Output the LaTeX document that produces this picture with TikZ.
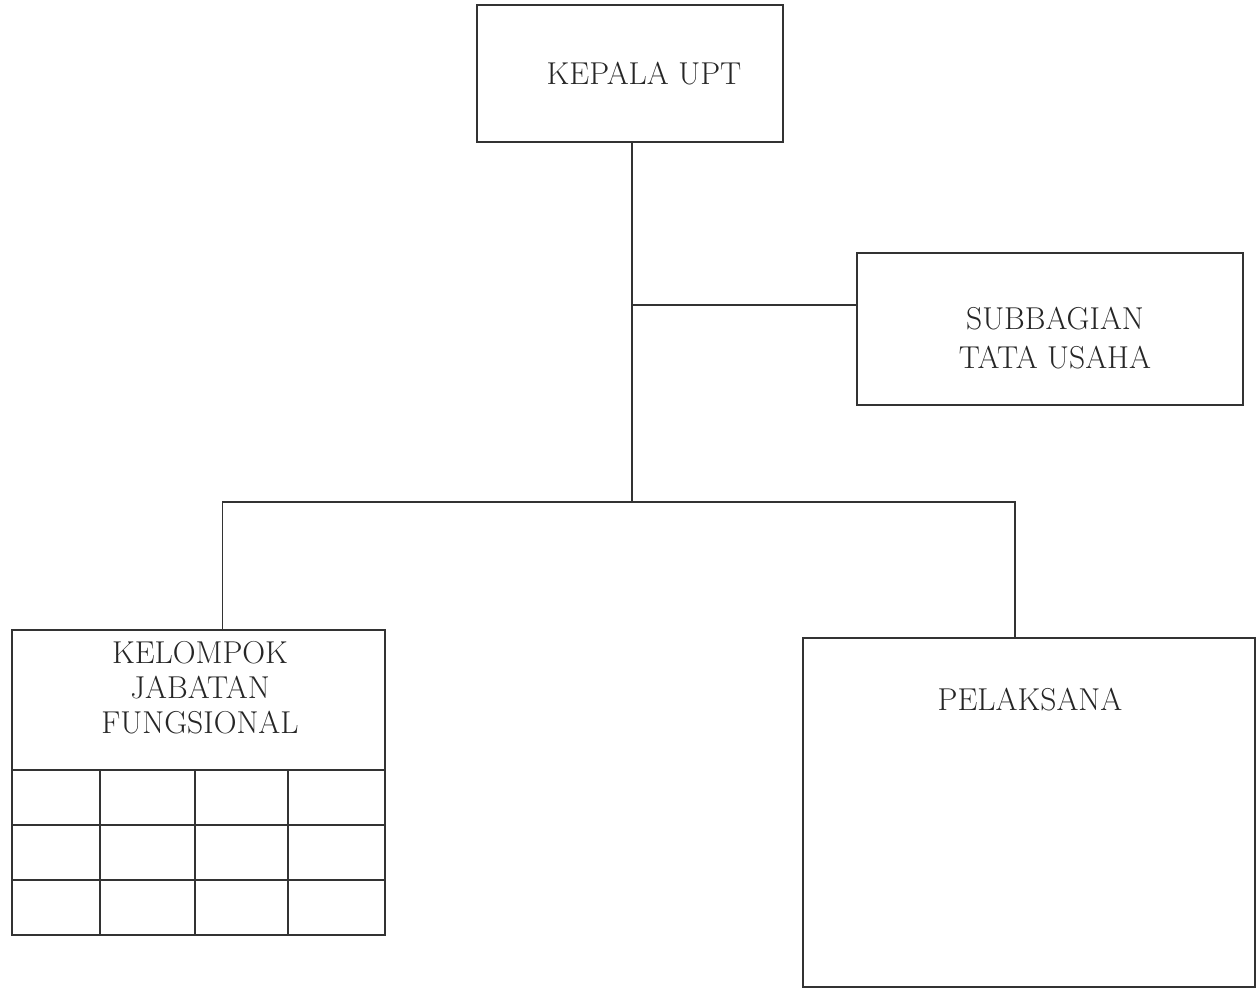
\documentclass[tikz,border=0pt]{standalone}
\usepackage{tikz}
\usetikzlibrary{positioning}

\begin{document}
\begin{tikzpicture}[x=0.2mm,y=-0.2mm,
	box/.style={draw=black!80,line width=0.9pt,rectangle,inner sep=0pt},
	lbl/.style={text=black!85,align=center,font=\fontsize{18}{21}\selectfont},
	link/.style={draw=black!80,line width=0.9pt}]
	\useasboundingbox (0,0) rectangle (1257,990);
	\node [box,minimum width=61.2mm,minimum height=27.4mm] (kepala) at (630,73.5) {};
	\node [lbl] (kepalatext) at (644,74) {KEPALA UPT};
	\node [box,minimum width=77.2mm,minimum height=30.4mm] (subbag) at (1050,329) {};
	\node [lbl,font=\fontsize{18}{22.5}\selectfont] (subbagtext) at (1055,338) {SUBBAGIAN\\TATA USAHA};
	\node [box,minimum width=74.6mm,minimum height=61mm] (kelompok) at (198.5,782.5) {};
	\node [lbl,font=\fontsize{18}{20}\selectfont] (kelompoktext) at (200,688) {KELOMPOK\\JABATAN\\FUNGSIONAL};
	\node [box,minimum width=90.4mm,minimum height=69.8mm] (pelaksana) at (1029,812.5) {};
	\node [lbl] (pelaksanatext) at (1030,700) {PELAKSANA};
	% grid under the jabatan fungsional header
	\foreach \y in {770,825,880}
		\draw [link] (12,\y) -- (385,\y);
	\foreach \x in {100,195,288}
		\draw [link] (\x,770) -- (\x,935);
	\coordinate (tee) at (632,305);
	\coordinate (fork) at (632,502);
	\draw [link] (kepala.south -| tee) -- (fork);
	\draw [link] (tee) -- (tee -| subbag.west);
	\draw [link] (fork) -| ([xshift=4.8mm]kelompok.north);
	\draw [link] (fork) -| ([xshift=-2.8mm]pelaksana.north);
\end{tikzpicture}
\end{document}
